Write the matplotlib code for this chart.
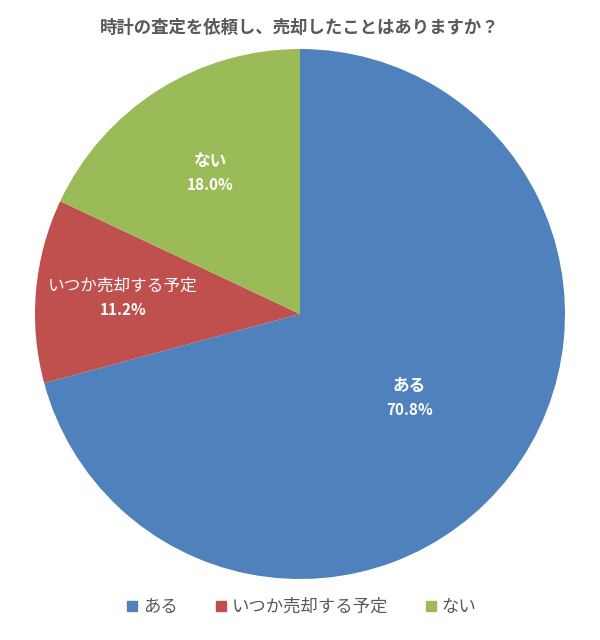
import matplotlib.pyplot as plt
import numpy as np
from matplotlib.lines import Line2D

plt.rcParams['font.family'] = ['Noto Sans CJK JP', 'DejaVu Sans']

title = '時計の査定を依頼し、売却したことはありますか？'
categories = ['ある', 'いつか売却する予定', 'ない']
values = [70.8, 11.2, 18.0]
colors = ['#4F81BD', '#C0504D', '#9BBB59']
label_dist = [0.52, 0.67, 0.63]
label_weight = ['bold', 'normal', 'bold']

fig = plt.figure(figsize=(6, 6.4), dpi=100)
ax = fig.add_axes([35 / 600, 61 / 640, 530 / 600, 530 / 640])

wedges, _ = ax.pie(values, colors=colors, startangle=90, counterclock=False,
                   radius=1, wedgeprops=dict(linewidth=0))
ax.set_xlim(-1, 1)
ax.set_ylim(-1, 1)
ax.set_aspect('equal')
ax.axis('off')

for w, cat, val, d, wt in zip(wedges, categories, values, label_dist, label_weight):
    ang = np.deg2rad((w.theta1 + w.theta2) / 2)
    x, y = d * np.cos(ang), d * np.sin(ang)
    ax.text(x, y + 0.045, cat, ha='center', va='center', color='white',
            fontsize=12, fontweight=wt)
    ax.text(x, y - 0.045, f'{val:.1f}%', ha='center', va='center', color='white',
            fontsize=11, fontweight='bold')

fig.text(0.5, 1 - 28 / 640, title, ha='center', va='center', fontsize=12.5,
         fontweight='bold', color='#595959')

handles = [Line2D([], [], marker='s', linestyle='', markersize=7, color=c)
           for c in colors]
fig.legend(handles, categories, loc='center', bbox_to_anchor=(0.5, 1 - 607 / 640),
           ncol=3, frameon=False, fontsize=12.5, labelcolor='#595959',
           handletextpad=0.1, columnspacing=2.0, handlelength=1.0)

fig.savefig('out.png', dpi=100)
